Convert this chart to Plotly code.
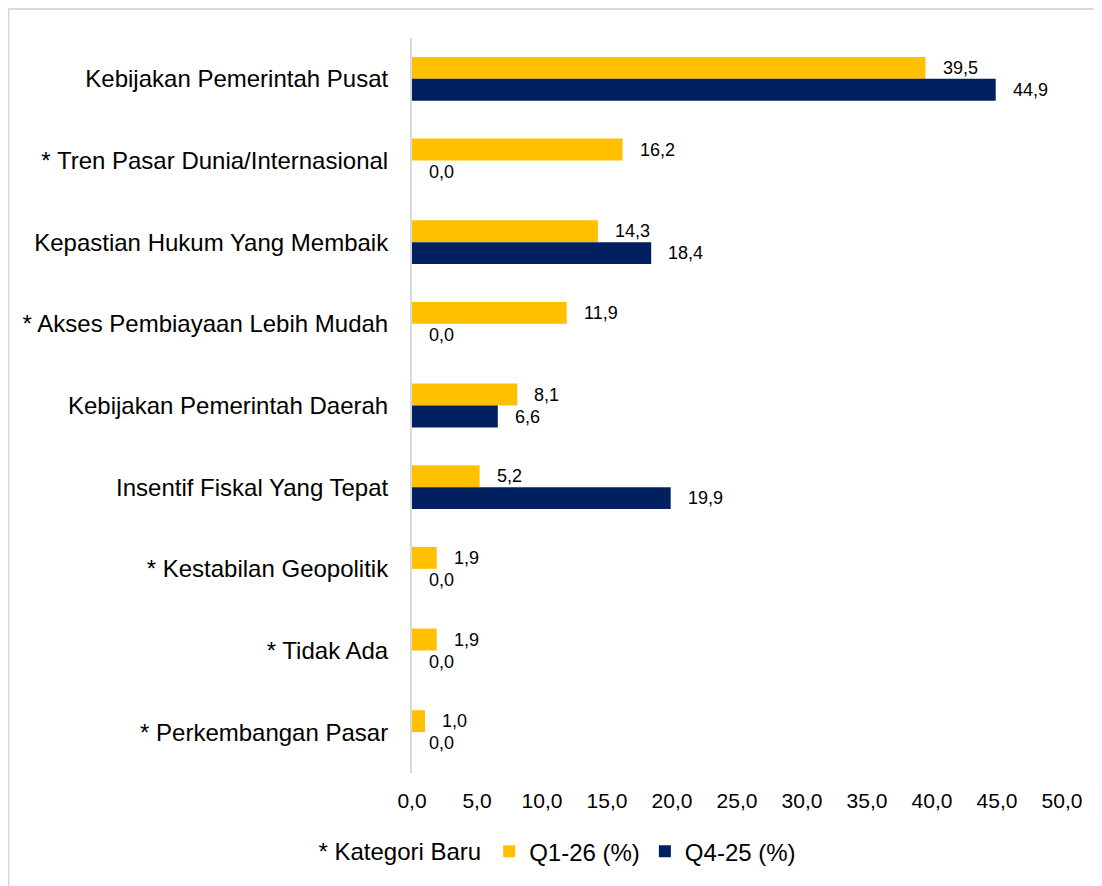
import plotly.graph_objects as go

categories = [
    "Kebijakan Pemerintah Pusat",
    "* Tren Pasar Dunia/Internasional",
    "Kepastian Hukum Yang Membaik",
    "* Akses Pembiayaan Lebih Mudah",
    "Kebijakan Pemerintah Daerah",
    "Insentif Fiskal Yang Tepat",
    "* Kestabilan Geopolitik",
    "* Tidak Ada",
    "* Perkembangan Pasar",
]
q1_26 = [39.5, 16.2, 14.3, 11.9, 8.1, 5.2, 1.9, 1.9, 1.0]
q4_25 = [44.9, 0.0, 18.4, 0.0, 6.6, 19.9, 0.0, 0.0, 0.0]
tick_vals = [0, 5, 10, 15, 20, 25, 30, 35, 40, 45, 50]
tick_text = ["0,0", "5,0", "10,0", "15,0", "20,0", "25,0", "30,0", "35,0", "40,0", "45,0", "50,0"]

YELLOW = "#FFC000"
NAVY = "#002060"
FONT = "Liberation Sans, Arial, sans-serif"

fig = go.Figure()
fig.add_trace(go.Bar(y=categories, x=q1_26, orientation="h", name="Q1-26 (%)",
                     marker=dict(color=YELLOW, line=dict(width=0))))
fig.add_trace(go.Bar(y=categories, x=q4_25, orientation="h", name="Q4-25 (%)",
                     marker=dict(color=NAVY, line=dict(width=0))))

def fmt(v):
    return f"{v:.1f}".replace(".", ",")

annotations = []
for cat, a, b in zip(categories, q1_26, q4_25):
    annotations.append(dict(x=a, y=cat, text=fmt(a), showarrow=False, xanchor="left",
                            xshift=15, yshift=11, font=dict(size=18, color="#000000", family=FONT)))
    annotations.append(dict(x=b, y=cat, text=fmt(b), showarrow=False, xanchor="left",
                            xshift=15, yshift=-11, font=dict(size=18, color="#000000", family=FONT)))

fig.update_layout(
    width=1094, height=878,
    margin=dict(l=404, r=40, t=30, b=110),
    paper_bgcolor="white", plot_bgcolor="white",
    barmode="group", bargap=0.463, bargroupgap=0,
    font=dict(family=FONT, color="#000000"),
    showlegend=True,
    legend=dict(orientation="h", x=0.226, y=-0.107, xanchor="center", yanchor="middle",
                font=dict(size=24, color="#000000"),
                title=dict(text="* Kategori Baru", side="left", font=dict(size=24, color="#000000")),
                traceorder="normal"),
    annotations=annotations,
    xaxis=dict(range=[0, 50], tickvals=tick_vals, ticktext=tick_text, showgrid=False,
               zeroline=False, showline=False, tickfont=dict(size=21, color="#000000"),
               ticks="", ticklabelstandoff=13),
    yaxis=dict(autorange="reversed", showgrid=False, zeroline=False, showline=True,
               linecolor="#d9d9d9", linewidth=2, ticks="",
               tickfont=dict(size=24, color="#000000"), ticklabelstandoff=17),
    shapes=[dict(type="rect", xref="paper", yref="paper",
                 x0=-0.6208, x1=1.1, y0=-0.25, y1=1.0393,
                 line=dict(color="#d9d9d9", width=2), fillcolor="rgba(0,0,0,0)", layer="below")],
)

fig.write_html("out.html")
